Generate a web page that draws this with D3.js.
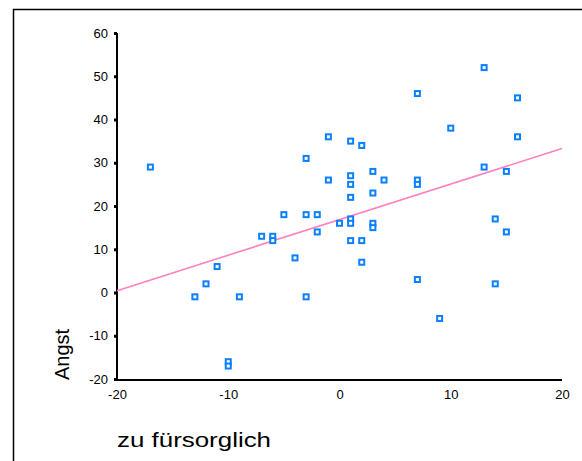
<!DOCTYPE html>
<html>
<head>
<meta charset="utf-8">
<script src="https://cdn.jsdelivr.net/npm/d3@7"></script>
<style>
  html, body { margin: 0; padding: 0; background: #fff; }
  svg { display: block; }
  text { font-family: "Liberation Sans", Arial, sans-serif; fill: #000; }
</style>
</head>
<body>
<svg id="chart" width="582" height="461"></svg>
<script>
// Data
const xValues = [-17, -13, -12, -11, -9, -10, -10, -7, -6, -6, -5, -4, -3, -3, -3, -2, -2, -1, -1,
  0, 1, 1, 1, 1, 1, 1, 1, 2, 2, 2, 3, 3, 3, 3, 4, 7, 7, 7, 7, 9, 10, 13, 13, 14, 14, 15, 15, 16, 16];
const yValues = [29, -1, 2, 6, -1, -16, -17, 13, 13, 12, 18, 8, 31, 18, -1, 18, 14, 36, 26,
  16, 35, 27, 25, 22, 17, 16, 12, 34, 12, 7, 28, 23, 16, 15, 26, 46, 26, 25, 3, -6, 38, 52, 29, 17, 2, 28, 14, 45, 36];
const fitX = [-20, 20];
const fitY = [0.4, 33.3];
const xTicks = [-20, -10, 0, 10, 20];
const yTicks = [-20, -10, 0, 10, 20, 30, 40, 50, 60];
const xTitle = "zu fürsorglich";
const yTitle = "Angst";

const points = xValues.map((x, i) => ({ x, y: yValues[i] }));
const fit = fitX.map((x, i) => ({ x, y: fitY[i] }));
const fmt = d => String(d);

const svg = d3.select("#chart");

// outer frame
svg.append("rect")
  .attr("x", 13.5).attr("y", 9.5)
  .attr("width", 700).attr("height", 600)
  .attr("fill", "none").attr("stroke", "#000").attr("stroke-width", 1.5);

const x = d3.scaleLinear().domain([-20, 20]).range([117, 562]);
const y = d3.scaleLinear().domain([-20, 60]).range([379, 33]);

// y axis
const yAxis = svg.append("g")
  .attr("transform", "translate(117,0)")
  .call(d3.axisLeft(y).tickValues(yTicks).tickSize(3).tickPadding(6).tickFormat(fmt));
yAxis.select(".domain").remove();
yAxis.selectAll(".tick line").attr("stroke", "#000").attr("stroke-width", 3);
yAxis.selectAll(".tick text")
  .style("font-family", "'Liberation Sans', Arial, sans-serif")
  .style("font-size", "13px").attr("fill", "#000");
svg.append("line")
  .attr("x1", 117).attr("x2", 117)
  .attr("y1", y(60)).attr("y2", y(-20) + 1)
  .attr("stroke", "#000").attr("stroke-width", 2);

// x axis
const xAxis = svg.append("g")
  .attr("transform", "translate(0,380)")
  .call(d3.axisBottom(x).tickValues(xTicks).tickSize(0).tickPadding(10).tickFormat(fmt));
xAxis.select(".domain").remove();
xAxis.selectAll(".tick text")
  .style("font-family", "'Liberation Sans', Arial, sans-serif")
  .style("font-size", "13px").attr("fill", "#000");
svg.append("line")
  .attr("x1", 116).attr("x2", x(20))
  .attr("y1", 380).attr("y2", 380)
  .attr("stroke", "#000").attr("stroke-width", 2);

// fit line
svg.append("path")
  .datum(fit)
  .attr("d", d3.line().x(d => x(d.x)).y(d => y(d.y)))
  .attr("fill", "none").attr("stroke", "#ff80c0").attr("stroke-width", 1.6);

// points
svg.append("g").selectAll("rect")
  .data(points)
  .join("rect")
  .attr("x", d => x(d.x) - 2.5)
  .attr("y", d => y(d.y) - 2.5)
  .attr("width", 5).attr("height", 5)
  .attr("fill", "#fff")
  .attr("stroke", "#0a80ff").attr("stroke-width", 2);

// titles
svg.append("text")
  .attr("transform", "translate(69,380) rotate(-90)")
  .attr("text-anchor", "start")
  .style("font-size", "20px")
  .text(yTitle);

svg.append("text")
  .attr("x", 117).attr("y", 447)
  .style("font-size", "21px")
  .attr("textLength", 154)
  .attr("lengthAdjust", "spacingAndGlyphs")
  .text(xTitle);
</script>
</body>
</html>
